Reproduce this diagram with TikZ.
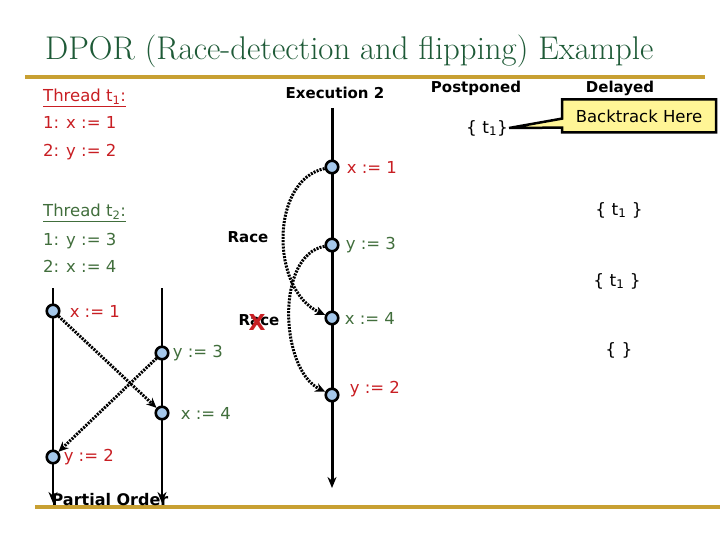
\documentclass[tikz,border=0pt]{standalone}
\usepackage{fontspec}
\newfontfamily\comic{DejaVu Sans}
\usetikzlibrary{positioning,arrows.meta,shapes.callouts}

\definecolor{titlegreen}{RGB}{30,90,55}
\definecolor{rulegold}{RGB}{200,160,50}
\definecolor{tred}{RGB}{200,30,35}
\definecolor{tgreen}{RGB}{65,110,60}
\definecolor{evfill}{RGB}{165,200,235}
\definecolor{notefill}{RGB}{255,245,150}

\begin{document}
\begin{tikzpicture}[
    x=1pt, y=-1pt,
    font=\comic\fontsize{16.5}{19}\selectfont,
    event/.style={
        circle,
        draw,
        line width=2.6pt,
        fill=evfill,
        minimum size=12.5pt,
        inner sep=0pt
    },
    code/.style={anchor=base west, inner sep=0pt},
    lbl/.style={inner sep=1pt},
    head/.style={anchor=base, inner sep=0pt, font=\comic\bfseries\fontsize{15}{17}\selectfont},
    set/.style={inner sep=1pt, font=\comic\fontsize{17}{19}\selectfont},
    timeline/.style={-{Stealth[length=11pt,width=9pt]}, line width=2pt},
    race/.style={-{Stealth[length=10pt,width=9pt]}, dash pattern=on 2pt off 1.2pt, line width=3pt},
    goldrule/.style={draw=rulegold, line width=3.5pt}
]
\useasboundingbox (0,0) rectangle (720,540);

% title and rules
\node[anchor=base west, inner sep=0pt, text=titlegreen, font=\fontsize{32.8}{38}\selectfont]
    (title) at (45,60) {DPOR (Race-detection and flipping) Example};
\draw[goldrule] (25,77) -- (705,77);
\draw[goldrule] (35,507) -- (720,507);

% program text
\node[code, text=tred] (t1head) at (43,102) {\underline{Thread t\textsubscript{1}:}};
\node[code, text=tred] (t1a) at (43,129) {1: x := 1};
\node[code, text=tred] (t1b) at (43,157) {2: y := 2};
\node[code, text=tgreen] (t2head) at (43,217) {\underline{Thread t\textsubscript{2}:}};
\node[code, text=tgreen] (t2a) at (43,245) {1: y := 3};
\node[code, text=tgreen] (t2b) at (43,272) {2: x := 4};

% partial order
\coordinate (poLtop) at (53,288);
\coordinate (poLbot) at (53,503);
\coordinate (poRtop) at (162,288);
\coordinate (poRbot) at (162,503);
\draw[timeline] (poLtop) -- (poLbot);
\draw[timeline] (poRtop) -- (poRbot);
\node[event] (px1) at (53,311) {};
\node[event] (py3) at (162,353) {};
\node[event] (px4) at (162,413) {};
\node[event] (py2) at (53,457) {};
\node[lbl, text=tred, right=8pt of px1] {x := 1};
\node[lbl, text=tgreen, right=2pt of py3] {y := 3};
\node[lbl, text=tgreen, right=10pt of px4] {x := 4};
\node[lbl, text=tred, right=2pt of py2] {y := 2};
\draw[race] (px1) -- (px4);
\draw[race] (py3) -- (py2);
\node[head, font=\comic\bfseries\fontsize{16}{18}\selectfont] (po) at (110,505) {Partial Order};

% execution 2
\node[head] (exec) at (335,99) {Execution 2};
\coordinate (eTop) at (332,108);
\coordinate (eBot) at (332,488);
\draw[timeline, line width=3pt] (eTop) -- (eBot);
\node[event] (ex1) at (332,167) {};
\node[event] (ey3) at (332,245) {};
\node[event] (ex4) at (332,318) {};
\node[event] (ey2) at (332,395) {};
\node[lbl, text=tred, right=6pt of ex1] {x := 1};
\node[lbl, text=tgreen, right=5pt of ey3] {y := 3};
\node[lbl, text=tgreen, right=4pt of ex4] {x := 4};
\node[lbl, text=tred, right=9pt of ey2, yshift=6pt] {y := 2};

% races
\draw[race] (ex1) .. controls (270,180) and (270,290) .. (ex4);
\draw[race] (ey3) .. controls (275,255) and (280,370) .. (ey2);
\node[head, anchor=center] (race1) at (248,237) {Race};
\node[head, anchor=center] (race2) at (259,320) {Race};
\node[text=tred, inner sep=0pt, font=\comic\bfseries\fontsize{22}{22}\selectfont]
    (cross) at ([xshift=-2pt,yshift=-2pt]race2.center) {X};

% postponed / delayed sets
\node[head] (post) at (476,93) {Postponed};
\node[head] (del) at (620,93) {Delayed};
\node[set] (s0) at (487,128) {\{ t\textsubscript{1}\}};
\node[set] (s1) at (619,210) {\{ t\textsubscript{1} \}};
\node[set] (s2) at (617,281) {\{ t\textsubscript{1} \}};
\node[set] (s3) at (619,350) {\{ \}};

% callout
\node[rectangle callout, draw, line width=2.5pt, fill=notefill,
    callout absolute pointer={(s0.east)}, callout pointer width=9pt,
    minimum width=154pt, minimum height=33pt,
    font=\comic\fontsize{16.5}{19}\selectfont] (note) at (639,116) {Backtrack Here};

\end{tikzpicture}
\end{document}
